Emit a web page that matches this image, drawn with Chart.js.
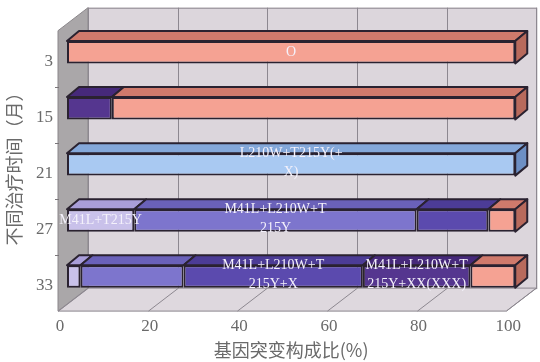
<!DOCTYPE html>
<html>
<head>
<meta charset="utf-8">
<script src="https://cdn.jsdelivr.net/npm/chart.js@4/dist/chart.umd.min.js"></script>
<style>
  html, body { margin: 0; padding: 0; background: #ffffff; }
  #wrap { width: 540px; height: 362px; }
</style>
</head>
<body>
<div id="wrap"><canvas id="c" width="540" height="362"></canvas></div>
<script>
// Treatment time (months) and mutation-pattern shares (%)
const months = ['3', '15', '21', '27', '33'];
const xTickValues = [0, 20, 40, 60, 80, 100];

const seriesNames = [
  'M41L+T215Y',
  'M41L+L210W+T215Y',
  'M41L+L210W+T215Y+X',
  'M41L+L210W+T215Y+XX(XXX)',
  'L210W+T215Y(+X)',
  'O'
];
const shareM41L_T215Y        = [0, 0, 0, 15, 3];
const shareM41L_L210W_T215Y  = [0, 0, 0, 63, 23];
const shareTriplePlusX       = [0, 0, 0, 16, 40];
const shareTriplePlusXX      = [0, 10, 0, 0, 24];
const shareL210W_T215Y       = [0, 0, 100, 0, 0];
const shareO                 = [100, 90, 0, 6, 10];

// in-bar captions (already wrapped) and the month rows where each is printed
const captionLines = [
  ['M41L+T215Y'],
  ['M41L+L210W+T', '215Y'],
  ['M41L+L210W+T', '215Y+X'],
  ['M41L+L210W+T', '215Y+XX(XXX)'],
  ['L210W+T215Y(+', 'X)'],
  ['O']
];
const captionRows = [[3], [3], [4], [4], [2], [0]];

// face colours: front, top, side
const faceColors = [
  ['#c9c1ea', '#a99ed9', '#9488c8'],
  ['#7d75cd', '#6a61b9', '#5a51a6'],
  ['#5b4aae', '#4c3c96', '#40327f'],
  ['#55368f', '#46297a', '#3a2166'],
  ['#a9c9f2', '#84a8da', '#6d8fc4'],
  ['#f5a293', '#d07a6c', '#b86a5c']
];
const seriesValues = [shareM41L_T215Y, shareM41L_L210W_T215Y, shareTriplePlusX,
                      shareTriplePlusXX, shareL210W_T215Y, shareO];

const EDGE = '#2a2230';
const DX = 12, DY = 10;     // bar depth
const GX = 9, GY = 6.5;     // gap from bars to the front / back planes

const box3d = {
  id: 'box3d',
  beforeDatasetsDraw(chart) {
    const { ctx, chartArea: a, scales: { x } } = chart;
    const bx = DX + GX, by = DY + GY;
    const x0 = x.getPixelForValue(0), x1 = x.getPixelForValue(100);
    const backTop = a.top - by, backBot = a.bottom - by;
    const frontTop = a.top + GY, frontBot = a.bottom + GY;
    ctx.save();
    ctx.lineWidth = 1;
    // back wall
    ctx.fillStyle = '#dcd6dc';
    ctx.fillRect(x0 + bx, backTop, x1 - x0, backBot - backTop);
    ctx.strokeStyle = '#8a858d';
    ctx.strokeRect(x0 + bx + 0.5, backTop + 0.5, x1 - x0, backBot - backTop);
    // left wall
    ctx.beginPath();
    ctx.moveTo(x0 + bx, backTop);
    ctx.lineTo(x0 + bx, backBot);
    ctx.lineTo(x0 - GX, frontBot);
    ctx.lineTo(x0 - GX, frontTop);
    ctx.closePath();
    ctx.fillStyle = '#aaa7a9';
    ctx.fill();
    ctx.strokeStyle = '#8a868a';
    ctx.stroke();
    // floor
    ctx.beginPath();
    ctx.moveTo(x0 - GX, frontBot);
    ctx.lineTo(x1 - GX, frontBot);
    ctx.lineTo(x1 + bx, backBot);
    ctx.lineTo(x0 + bx, backBot);
    ctx.closePath();
    ctx.fillStyle = '#ded8de';
    ctx.fill();
    ctx.strokeStyle = '#8a858d';
    ctx.stroke();
    // grid lines on back wall and floor
    ctx.strokeStyle = '#8d8890';
    xTickValues.forEach(v => {
      const p = Math.round(x.getPixelForValue(v)) + 0.5;
      ctx.beginPath();
      ctx.moveTo(p + bx, backTop);
      ctx.lineTo(p + bx, backBot);
      ctx.moveTo(p + bx, backBot);
      ctx.lineTo(p - GX, frontBot);
      ctx.stroke();
    });
    // category separators on the front edge of the left wall
    const y = chart.scales.y;
    ctx.strokeStyle = '#7a767a';
    for (let i = 1; i < months.length; i++) {
      const yy = (y.getPixelForValue(i - 1) + y.getPixelForValue(i)) / 2 + GY;
      ctx.beginPath();
      ctx.moveTo(x0 - GX - 3, Math.round(yy) + 0.5);
      ctx.lineTo(x0 - GX + 1, Math.round(yy) + 0.5);
      ctx.stroke();
    }
    ctx.restore();
  },
  afterDatasetsDraw(chart) {
    const { ctx } = chart;
    ctx.save();
    ctx.lineWidth = 2;
    ctx.lineJoin = 'round';
    ctx.strokeStyle = EDGE;
    const rowEnd = {};
    chart.data.datasets.forEach((ds, i) => {
      const meta = chart.getDatasetMeta(i);
      meta.data.forEach((el, j) => {
        const p = el.getProps(['x', 'base', 'y', 'height'], true);
        const l = Math.min(p.x, p.base), r = Math.max(p.x, p.base);
        if (r - l < 0.5) return;
        const top = p.y - p.height / 2;
        ctx.beginPath();
        ctx.moveTo(l, top);
        ctx.lineTo(l + DX, top - DY);
        ctx.lineTo(r + DX, top - DY);
        ctx.lineTo(r, top);
        ctx.closePath();
        ctx.fillStyle = faceColors[i][1];
        ctx.fill();
        ctx.stroke();
        if (!rowEnd[j] || r >= rowEnd[j].r) rowEnd[j] = { r, top, bot: p.y + p.height / 2, i };
      });
    });
    Object.values(rowEnd).forEach(s => {
      ctx.beginPath();
      ctx.moveTo(s.r, s.top);
      ctx.lineTo(s.r + DX, s.top - DY);
      ctx.lineTo(s.r + DX, s.bot - DY);
      ctx.lineTo(s.r, s.bot);
      ctx.closePath();
      ctx.fillStyle = faceColors[s.i][2];
      ctx.fill();
      ctx.stroke();
    });
    // captions
    ctx.font = '14px "Liberation Serif", "Times New Roman", serif';
    ctx.fillStyle = '#f4f1fb';
    ctx.textAlign = 'center';
    ctx.textBaseline = 'middle';
    chart.data.datasets.forEach((ds, i) => {
      const meta = chart.getDatasetMeta(i);
      captionRows[i].forEach(j => {
        const p = meta.data[j].getProps(['x', 'base', 'y'], true);
        const cx = (p.x + p.base) / 2;
        const lines = captionLines[i];
        const lh = 19;
        const cy = p.y - (lines.length > 1 ? 2 : 0);
        lines.forEach((t, k) => {
          ctx.fillText(t, cx, cy + (k - (lines.length - 1) / 2) * lh);
        });
      });
    });
    ctx.restore();
  }
};

const datasets = seriesNames.map((name, i) => ({
  label: name,
  data: seriesValues[i],
  backgroundColor: faceColors[i][0],
  borderColor: EDGE,
  borderWidth: 2,
  borderSkipped: false,
  barPercentage: 0.4,
  categoryPercentage: 1.0
}));

new Chart(document.getElementById('c'), {
  type: 'bar',
  data: { labels: months, datasets },
  options: {
    indexAxis: 'y',
    responsive: false,
    devicePixelRatio: 1,
    animation: false,
    layout: { padding: { left: 0, right: 19, top: 23.4, bottom: 0 } },
    plugins: { legend: { display: false }, tooltip: { enabled: false } },
    scales: {
      x: {
        stacked: true,
        min: 0,
        max: 100,
        afterBuildTicks(scale) { scale.ticks = xTickValues.map(v => ({ value: v })); },
        afterFit(scale) { scale.height = 57.4; },
        grid: { display: false, drawTicks: false },
        border: { display: false },
        ticks: {
          color: '#6a6a6a',
          font: { family: '"Liberation Serif", serif', size: 17 },
          padding: 12,
          labelOffset: -7,
          maxRotation: 0
        },
        title: {
          display: true,
          text: '基因突变构成比(%)',
          color: '#6a6a6a',
          font: { family: '"Noto Sans CJK SC", sans-serif', size: 18 },
          padding: { top: 0, bottom: 1 }
        }
      },
      y: {
        stacked: true,
        afterFit(scale) { scale.width = 67; },
        grid: { display: false, drawTicks: false },
        border: { display: false },
        ticks: {
          color: '#6a6a6a',
          font: { family: '"Liberation Serif", serif', size: 17 },
          padding: 14,
          labelOffset: 9
        },
        title: {
          display: true,
          text: '不同治疗时间（月）',
          color: '#6a6a6a',
          font: { family: '"Noto Sans CJK SC", sans-serif', size: 18 },
          padding: { top: 3, bottom: 0 }
        }
      }
    }
  },
  plugins: [box3d]
});
</script>
</body>
</html>
